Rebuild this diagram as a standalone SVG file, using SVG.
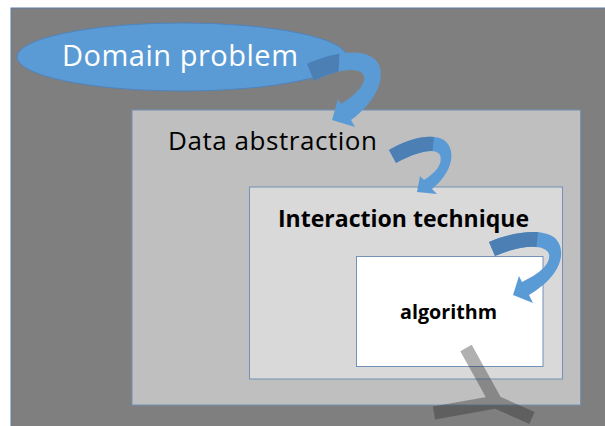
<svg xmlns="http://www.w3.org/2000/svg" width="605" height="426" viewBox="0 0 605 426">
  <defs>
    <style>
      .box { stroke: #7392b8; stroke-width: 1; }
      .lbl { font-family: "Open Sans", "Noto Sans", "DejaVu Sans", sans-serif; }
      .arrow { fill: #5B9BD5; }
      .shade { fill: #4C80B5; }
    </style>
    <path id="a1" d="M 307 64 C 332 52, 367 46, 378 63 C 387 78, 374 104, 351 120 L 355 127 L 332 120 L 338 99 L 341 104 C 357 94, 366 84, 364 76 C 360 67, 340 68, 314 81 Z"/>
    <path id="a2" d="M 389 150 C 405 140, 431 132, 444 140 C 457 150, 453 172, 432 189 L 437 194 L 417 192 L 420 176 L 424 180 C 437 172, 443 163, 440 155 C 436 148, 420 150, 396 163 Z"/>
    <path id="a3" d="M 489 242 C 510 233, 541 227, 555 238 C 567 250, 563 275, 529 295 L 533 303 L 513 295 L 519 276 L 522 282 C 541 273, 551 263, 549 254 C 546 245, 525 243, 495 256 Z"/>
    <clipPath id="c1"><use href="#a1"/></clipPath>
    <clipPath id="c2"><use href="#a2"/></clipPath>
    <clipPath id="c3"><use href="#a3"/></clipPath>
  </defs>

  <rect x="0" y="0" width="605" height="426" fill="#ffffff"/>
  <rect id="background" x="11" y="8" width="600" height="430" fill="#7f7f7f" stroke="#5a7ca3" stroke-width="1"/>

  <g id="data-abstraction">
    <rect class="box" x="132" y="110" width="448.5" height="295" fill="#bfbfbf"/>
    <text class="lbl" x="168" y="150" font-size="26" fill="#000" textLength="209">Data abstraction</text>
  </g>

  <g id="interaction-technique">
    <rect class="box" x="249.5" y="187" width="313" height="192" fill="#d9d9d9"/>
    <text class="lbl" x="278" y="227" font-size="23.5" font-weight="bold" fill="#000" textLength="251" lengthAdjust="spacingAndGlyphs">Interaction technique</text>
  </g>

  <g id="algorithm">
    <rect class="box" x="356.5" y="256.5" width="186.5" height="110" fill="#ffffff"/>
    <text class="lbl" x="400" y="319" font-size="19.5" font-weight="bold" fill="#000" textLength="97" lengthAdjust="spacingAndGlyphs">algorithm</text>
  </g>

  <g id="domain-problem">
    <ellipse cx="182" cy="57" rx="165" ry="34" fill="#5B9BD5" stroke="#4f84bd" stroke-width="1"/>
    <text class="lbl" x="62" y="66" font-size="29" fill="#ffffff" textLength="236">Domain problem</text>
  </g>

  <g id="connectors">
    <use href="#a1" class="arrow"/>
    <polygon class="shade" clip-path="url(#c1)" points="295,40 340,40 338,85 295,95"/>
    <use href="#a2" class="arrow"/>
    <polygon class="shade" clip-path="url(#c2)" points="380,120 436,120 432,156 380,176"/>
    <use href="#a3" class="arrow"/>
    <polygon class="shade" clip-path="url(#c3)" points="480,215 540,215 536,251 480,266"/>
  </g>

  <g id="y-mark" opacity="0.37">
    <path d="M 466 348 L 496 402 L 434 413 M 496 402 L 532 418" fill="none" stroke="#282828" stroke-width="13" stroke-linejoin="miter"/>
  </g>
</svg>
